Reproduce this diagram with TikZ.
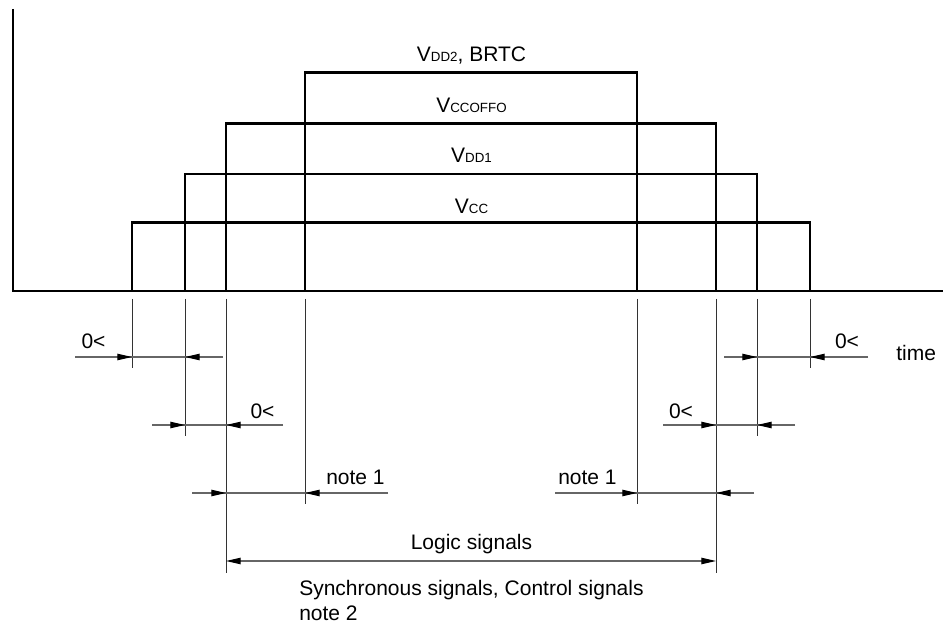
\documentclass[tikz,border=0pt]{standalone}
\usepackage{fontspec}
\setmainfont{Liberation Sans}
\usetikzlibrary{arrows.meta}
\newcommand\sigsub[1]{{\fontsize{10}{10}\selectfont #1}}
\begin{document}
\begin{tikzpicture}[x=0.75pt,y=-0.75pt,
  sig/.style={line width=1.9pt, line join=miter, line cap=rect},
  axis/.style={line width=1.3pt},
  ext/.style={line width=0.7pt, black!80},
  dimline/.style={line width=0.8pt, black!60},
  tip/.style={-{Triangle[length=11pt,width=4.8pt,color=black]}, line width=0.8pt, black!60},
  lbl/.style={font=\fontsize{15.75}{18}\selectfont, inner sep=0pt}]
\useasboundingbox[fill=white] (0,0) rectangle (943,623);

% axes
\coordinate (o) at (13,291);
\coordinate (ytop) at (13,9);
\coordinate (xend) at (943,291);
\draw[axis] (ytop) -- (o) -- (xend);

% edge positions on the time axis
\coordinate (x1) at (132,291);
\coordinate (x2) at (185,291);
\coordinate (x3) at (226,291);
\coordinate (x4) at (305,291);
\coordinate (x5) at (637,291);
\coordinate (x6) at (716,291);
\coordinate (x7) at (757,291);
\coordinate (x8) at (810,291);

% levels
\coordinate (hcc) at (0,222.5);
\coordinate (hdd1) at (0,174);
\coordinate (hoffo) at (0,123.5);
\coordinate (hdd2) at (0,72.5);

% signals
\draw[sig] (x1) -- (x1|-hcc) -- (x8|-hcc) -- (x8);
\draw[sig] (x2) -- (x2|-hdd1) -- (x7|-hdd1) -- (x7);
\draw[sig] (x3) -- (x3|-hoffo) -- (x6|-hoffo) -- (x6);
\draw[sig] (x4) -- (x4|-hdd2) -- (x5|-hdd2) -- (x5);

% signal labels
\node[lbl, anchor=base] (lvdd2) at (471.5,62) {V\sigsub{DD2}, BRTC};
\node[lbl, anchor=base] (lvoffo) at (471.5,113) {V\sigsub{CCOFFO}};
\node[lbl, anchor=base] (lvdd1) at (471.5,163) {V\sigsub{DD1}};
\node[lbl, anchor=base] (lvcc) at (471.5,214) {V\sigsub{CC}};

% extension lines
\coordinate (es) at (0,299);
\coordinate (e1) at (0,368);
\coordinate (e2) at (0,436);
\coordinate (e3) at (0,504);
\coordinate (e4) at (0,573);
\draw[ext] (x1|-es) -- (x1|-e1);
\draw[ext] (x2|-es) -- (x2|-e2);
\draw[ext] (x3|-es) -- (x3|-e4);
\draw[ext] (x4|-es) -- (x4|-e3);
\draw[ext] (x5|-es) -- (x5|-e3);
\draw[ext] (x6|-es) -- (x6|-e4);
\draw[ext] (x7|-es) -- (x7|-e2);
\draw[ext] (x8|-es) -- (x8|-e1);

% dimension rows
\coordinate (r1) at (0,357);
\coordinate (r2) at (0,425);
\coordinate (r3) at (0,493);
\coordinate (r4) at (0,561);

% row 1 left
\coordinate (a1) at (75,357);
\coordinate (b1) at (223,357);
\draw[dimline] (a1) -- (b1);
\draw[tip] (a1) -- (x1|-r1);
\draw[tip] (b1) -- (x2|-r1);
% row 1 right
\coordinate (a2) at (724,357);
\coordinate (b2) at (868,357);
\draw[dimline] (a2) -- (b2);
\draw[tip] (a2) -- (x7|-r1);
\draw[tip] (b2) -- (x8|-r1);
% row 2 left
\coordinate (a3) at (152,425);
\coordinate (b3) at (283,425);
\draw[dimline] (a3) -- (b3);
\draw[tip] (a3) -- (x2|-r2);
\draw[tip] (b3) -- (x3|-r2);
% row 2 right
\coordinate (a4) at (663,425);
\coordinate (b4) at (795,425);
\draw[dimline] (a4) -- (b4);
\draw[tip] (a4) -- (x6|-r2);
\draw[tip] (b4) -- (x7|-r2);
% row 3 left
\coordinate (a5) at (192,493);
\coordinate (b5) at (388,493);
\draw[dimline] (a5) -- (b5);
\draw[tip] (a5) -- (x3|-r3);
\draw[tip] (b5) -- (x4|-r3);
% row 3 right
\coordinate (a6) at (555,493);
\coordinate (b6) at (754,493);
\draw[dimline] (a6) -- (b6);
\draw[tip] (a6) -- (x5|-r3);
\draw[tip] (b6) -- (x6|-r3);
% logic signals
\draw[dimline, {Triangle[length=11pt,width=4.8pt,color=black]}-{Triangle[length=11pt,width=4.8pt,color=black]}] (x3|-r4) -- (x6|-r4);

% texts
\node[lbl, anchor=base] (t1) at (93.5,349) {0<};
\node[lbl, anchor=base] (t2) at (262.5,418.5) {0<};
\node[lbl, anchor=base] (t3) at (847,349) {0<};
\node[lbl, anchor=base] (t4) at (681,418.5) {0<};
\node[lbl, anchor=base west] (ttime) at (896,360.7) {time};
\node[lbl, anchor=base west] (n1l) at (326,485) {note 1};
\node[lbl, anchor=base west] (n1r) at (558,485) {note 1};
\node[lbl, anchor=base] (logic) at (471.5,550) {Logic signals};
\node[lbl, anchor=base west] (sync) at (299,595.7) {Synchronous signals, Control signals};
\node[lbl, anchor=base west] (n2) at (299,620.5) {note 2};
\end{tikzpicture}
\end{document}
